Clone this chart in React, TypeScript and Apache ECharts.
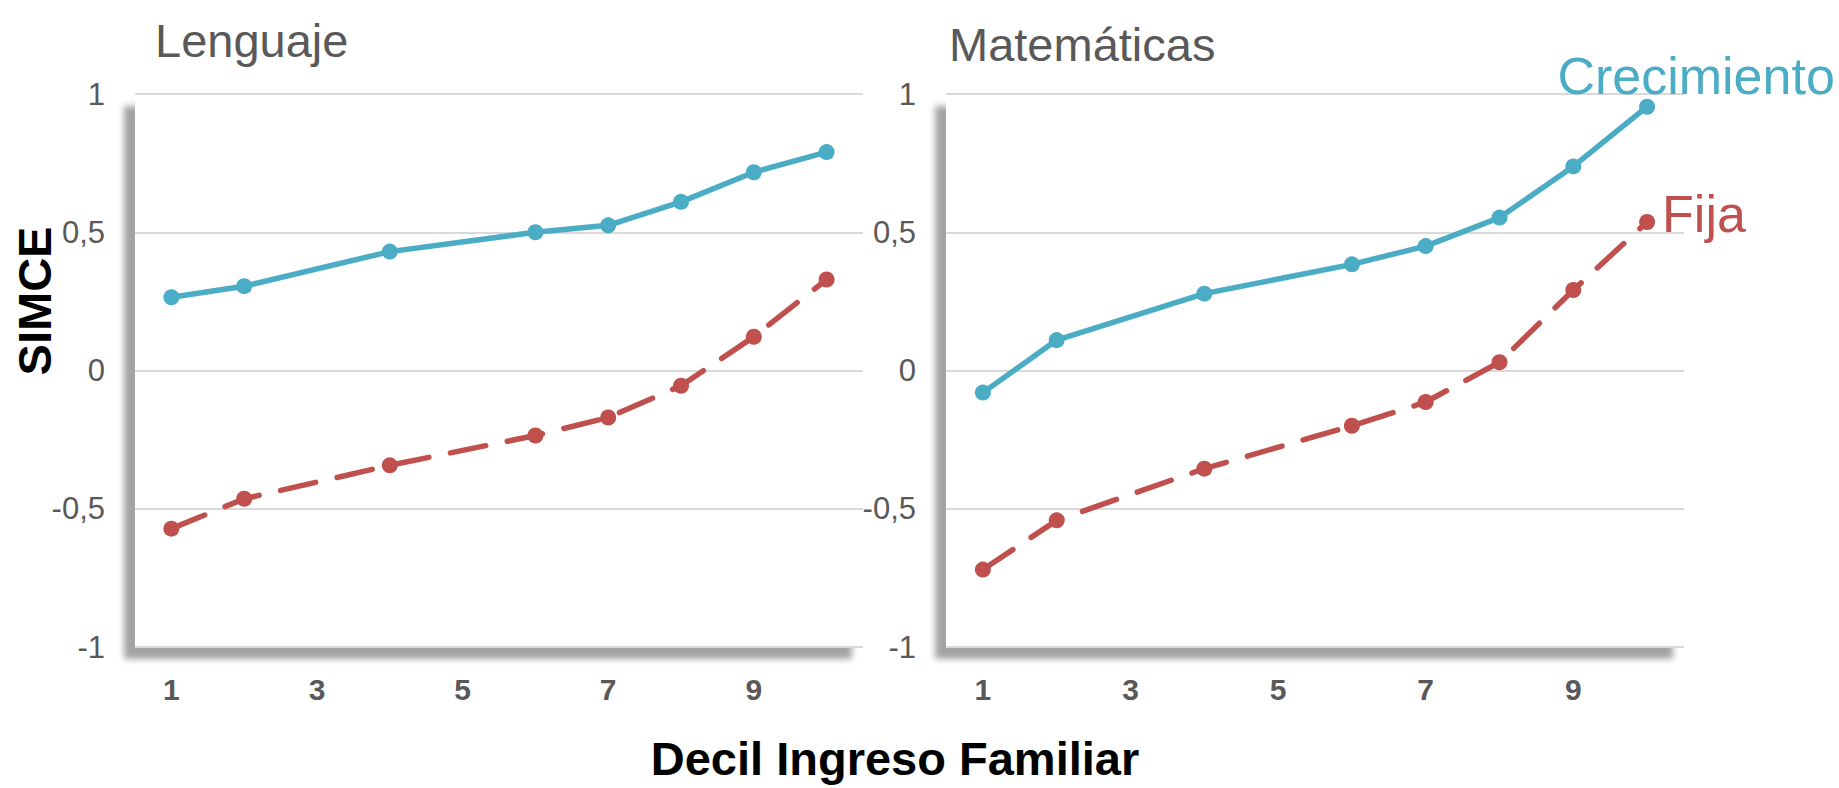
import React, { useEffect, useRef } from "react";
import * as echarts from "echarts";

const deciles = ["1", "2", "3", "4", "5", "6", "7", "8", "9", "10"];
const yTicks = [-1, -0.5, 0, 0.5, 1];

const lengCrecimiento = [0.265, 0.305, null, 0.43, null, 0.5, 0.525, 0.61, 0.717, 0.79];
const lengFija = [-0.572, -0.464, null, -0.343, null, -0.235, -0.17, -0.055, 0.122, 0.329];
const matCrecimiento = [-0.08, 0.11, null, 0.278, null, 0.384, 0.45, 0.553, 0.738, 0.954];
const matFija = [-0.72, -0.542, null, -0.355, null, -0.2, -0.114, 0.03, 0.291, 0.537];

const panelTitles = ["Lenguaje", "Matemáticas"];
const seriesNames = ["Crecimiento", "Fija"];

const BLUE = "#4bacc6";
const RED = "#c0504d";
const GRAY = "#595959";
const FONT = "'Liberation Sans', Arial, sans-serif";

function fmt(v: number) {
  return String(v).replace(".", ",");
}

function withEndLabel(data: (number | null)[], label: any) {
  return data.map((v, i) =>
    i === data.length - 1 && v !== null ? { value: v, label } : v
  );
}

export default function App() {
  const ref = useRef<HTMLDivElement>(null);
  useEffect(() => {
    document.body.style.margin = "0";
    const chart = echarts.init(ref.current!, null, { renderer: "svg" });
    const gridBase = {
      show: true,
      backgroundColor: "#ffffff",
      borderWidth: 0,
      shadowColor: "rgba(0,0,0,0.36)",
      shadowBlur: 6,
      shadowOffsetX: -11,
      shadowOffsetY: 12,
      top: 94,
      height: 553,
    };
    const xAxisBase = (gi: number) => ({
      type: "category",
      gridIndex: gi,
      data: deciles,
      boundaryGap: true,
      axisLine: { show: false },
      axisTick: { show: false },
      splitLine: { show: false },
      axisLabel: {
        interval: 1,
        margin: 27,
        fontSize: 30,
        fontWeight: "bold",
        color: GRAY,
        fontFamily: FONT,
      },
    });
    const yAxisBase = (gi: number) => ({
      type: "value",
      gridIndex: gi,
      min: yTicks[0],
      max: yTicks[yTicks.length - 1],
      interval: 0.5,
      axisLine: { show: false },
      axisTick: { show: false },
      splitLine: { show: true, lineStyle: { color: "#d9d9d9", width: 2 } },
      axisLabel: {
        margin: 30,
        fontSize: 31,
        color: GRAY,
        fontFamily: FONT,
        formatter: (v: number) => fmt(v),
      },
    });
    const lineBase = {
      type: "line",
      symbol: "circle",
      symbolSize: 16,
      connectNulls: true,
      z: 3,
    };
    const blueStyle = { color: BLUE, width: 5.5, cap: "round" };
    const redStyle = { color: RED, width: 5.5, type: [36, 22], cap: "round" };

    const option: any = {
      animation: false,
      backgroundColor: "#ffffff",
      title: [
        {
          text: panelTitles[0],
          left: 150,
          top: 12,
          textStyle: { fontSize: 47, fontWeight: "normal", color: GRAY, fontFamily: FONT },
        },
        {
          text: panelTitles[1],
          left: 944,
          top: 16,
          textStyle: { fontSize: 47, fontWeight: "normal", color: GRAY, fontFamily: FONT },
        },
      ],
      grid: [
        { ...gridBase, left: 135, width: 728 },
        { ...gridBase, left: 946, width: 738 },
      ],
      xAxis: [xAxisBase(0), xAxisBase(1)],
      yAxis: [yAxisBase(0), yAxisBase(1)],
      series: [
        {
          ...lineBase,
          name: seriesNames[0],
          xAxisIndex: 0,
          yAxisIndex: 0,
          data: lengCrecimiento,
          lineStyle: blueStyle,
          itemStyle: { color: BLUE },
        },
        {
          ...lineBase,
          name: seriesNames[1],
          xAxisIndex: 0,
          yAxisIndex: 0,
          data: lengFija,
          lineStyle: redStyle,
          itemStyle: { color: RED },
        },
        {
          ...lineBase,
          name: seriesNames[0],
          xAxisIndex: 1,
          yAxisIndex: 1,
          data: withEndLabel(matCrecimiento, {
            show: true,
            formatter: seriesNames[0],
            position: "top",
            distance: 0,
            align: "center",
            offset: [49, 3],
            fontSize: 52,
            color: BLUE,
            fontFamily: FONT,
          }),
          lineStyle: blueStyle,
          itemStyle: { color: BLUE },
        },
        {
          ...lineBase,
          name: seriesNames[1],
          xAxisIndex: 1,
          yAxisIndex: 1,
          data: withEndLabel(matFija, {
            show: true,
            formatter: seriesNames[1],
            position: "right",
            distance: 7,
            offset: [0, -8],
            fontSize: 52,
            color: RED,
            fontFamily: FONT,
          }),
          lineStyle: redStyle,
          itemStyle: { color: RED },
        },
      ],
      graphic: [
        {
          type: "text",
          x: 34,
          y: 301,
          rotation: Math.PI / 2,
          style: {
            text: "SIMCE",
            align: "center",
            verticalAlign: "middle",
            fontSize: 47,
            fontWeight: "bold",
            fontFamily: FONT,
            fill: "#000000",
          },
        },
        {
          type: "text",
          x: 895,
          y: 758,
          style: {
            text: "Decil Ingreso Familiar",
            align: "center",
            verticalAlign: "middle",
            fontSize: 47,
            fontWeight: "bold",
            fontFamily: FONT,
            fill: "#000000",
          },
        },
      ],
    };
    chart.setOption(option);
    return () => chart.dispose();
  }, []);
  return (
    <div
      ref={ref}
      style={{ position: "absolute", left: 0, top: 0, width: "1839px", height: "788px" }}
    />
  );
}
